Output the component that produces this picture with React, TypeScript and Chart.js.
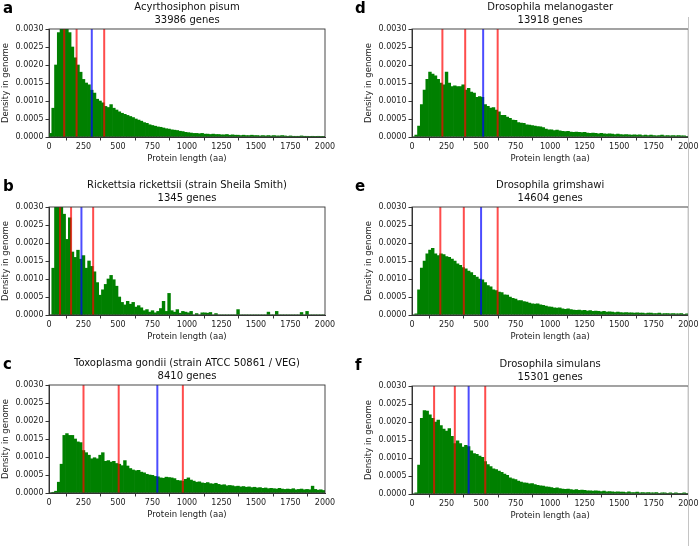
import { useEffect, useRef } from 'react';
import { Chart, registerables } from 'chart.js';

Chart.register(...registerables);

const FONT = '"DejaVu Sans", sans-serif';
Chart.defaults.font.family = FONT;

// histogram bins: 20 aa wide, 0..2000
const BIN_WIDTH = 20;
const BIN_CENTERS = Array.from({ length: 100 }, (_, i) => i * BIN_WIDTH + BIN_WIDTH / 2);

const X_MAX = 2000;
const X_STEP = 250;
const Y_MAX = 0.003;
const Y_STEP = 0.0005;

const PANEL_LETTERS = ['a', 'b', 'c', 'd', 'e', 'f'];
const SPECIES = [
  'Acyrthosiphon pisum',
  'Rickettsia rickettsii (strain Sheila Smith)',
  'Toxoplasma gondii (strain ATCC 50861 / VEG)',
  'Drosophila melanogaster',
  'Drosophila grimshawi',
  'Drosophila simulans',
];
const GENE_COUNTS = [33986, 1345, 8410, 13918, 14604, 15301];

const densityA = [
  0.0001, 0.0008, 0.002, 0.0029, 0.0034, 0.0034, 0.0032, 0.0029, 0.0025, 0.0022,
  0.002, 0.0018, 0.0016, 0.0015, 0.00145, 0.0013, 0.00122, 0.00105, 0.001, 0.00095,
  0.00085, 0.00082, 0.0009, 0.0008, 0.00075, 0.0007, 0.00066, 0.00063, 0.0006, 0.00057,
  0.00054, 0.0005, 0.00047, 0.00044, 0.0004, 0.00038, 0.00034, 0.00032, 0.0003, 0.00028,
  0.00027, 0.00025, 0.00023, 0.00022, 0.0002, 0.00019, 0.00018, 0.00016, 0.00015, 0.00013,
  0.00012, 0.00011, 0.0001, 0.0001, 0.00009, 0.0001, 0.00008, 0.00008, 0.00007, 0.00008,
  0.00007, 0.00007, 0.00006, 0.00006, 0.00007, 0.00005, 0.00006, 0.00005, 0.00005, 0.00004,
  0.00005, 0.00004, 0.00004, 0.00005, 0.00004, 0.00004, 0.00003, 0.00004, 0.00003, 0.00004,
  0.00003, 0.00004, 0.00003, 0.00003, 0.00004, 0.00003, 0.00002, 0.00003, 0.00002, 0.00002,
  0.00002, 0.00003, 0.00002, 0.00002, 0.00001, 0.00002, 0.00001, 0.00002, 0.00001, 0.00001,
];

const densityB = [
  0, 0.0013, 0.0035, 0.0038, 0.0034, 0.0028, 0.0021, 0.0027, 0.00175, 0.0016,
  0.0018, 0.00155, 0.00165, 0.0013, 0.0015, 0.00135, 0.0012, 0.0009, 0.00055, 0.0007,
  0.00085, 0.001, 0.0011, 0.00098, 0.0008, 0.0005, 0.00035, 0.00028, 0.00038, 0.0003,
  0.00035, 0.00022, 0.00026, 0.0002, 0.00012, 0.00015, 0.00008, 0.00012, 0.00006, 0.0001,
  0.00018, 0.00038, 0.0001, 0.0006, 0.00012, 0.00008, 0.00015, 0.00005, 0.0001, 0.00008,
  0.00006, 0.0001, 0, 0.00004, 0, 0.00006, 0.00006, 0.00005, 0.00007, 0,
  0.00004, 0, 0, 0, 0, 0, 0, 0, 0.00015, 0,
  0, 0, 0, 0, 0, 0, 0, 0, 0, 0.00008,
  0, 0, 0.0001, 0, 0, 0, 0, 0, 0, 0,
  0, 0.00007, 0, 0.0001, 0, 0, 0, 0, 0, 0,
];

const densityC = [
  0, 0.00002, 0.00005, 0.0003, 0.0008, 0.0016, 0.00165, 0.0016, 0.0016, 0.0015,
  0.00142, 0.0014, 0.00118, 0.00112, 0.00105, 0.00095, 0.00098, 0.00095, 0.00105, 0.00112,
  0.00088, 0.0009, 0.00086, 0.00088, 0.00082, 0.0008, 0.00076, 0.0009, 0.00075, 0.00068,
  0.00064, 0.00062, 0.00063, 0.00058, 0.00056, 0.00052, 0.0005, 0.00049, 0.00046, 0.00045,
  0.00042, 0.00041, 0.00044, 0.00043, 0.00042, 0.0004, 0.00035, 0.00034, 0.00033, 0.00038,
  0.00042, 0.00036, 0.00033, 0.0003, 0.00031, 0.00028, 0.00027, 0.00029, 0.00026, 0.00025,
  0.00027, 0.00024, 0.00022, 0.00023, 0.0002, 0.00021, 0.0002, 0.00018, 0.00019, 0.00017,
  0.00018, 0.00016, 0.00017, 0.00015, 0.00016, 0.00014, 0.00015, 0.00013, 0.00014, 0.00012,
  0.00013, 0.00012, 0.00011, 0.00013, 0.00011, 0.0001, 0.00011, 0.0001, 0.00012, 0.00009,
  0.0001, 0.00011, 0.00009, 0.0001, 0.00009, 0.00019, 0.0001, 0.00008, 0.00009, 0.00007,
];

const densityD = [
  0, 0.00005, 0.0003, 0.0009, 0.0013, 0.0016, 0.0018, 0.00175, 0.0017, 0.0016,
  0.0015, 0.00145, 0.0018, 0.0015, 0.0014, 0.00142, 0.0014, 0.0014, 0.00145, 0.0013,
  0.00135, 0.00125, 0.00122, 0.0011, 0.00112, 0.0011, 0.0009, 0.00085, 0.0008, 0.00082,
  0.00075, 0.0007, 0.0006, 0.0006, 0.00055, 0.00052, 0.00047, 0.00046, 0.0004, 0.00039,
  0.00038, 0.00034, 0.00033, 0.00032, 0.0003, 0.00029, 0.00028, 0.00026, 0.00022, 0.0002,
  0.0002, 0.00018, 0.00019, 0.00017, 0.00016, 0.00015, 0.00016, 0.00014, 0.00013, 0.00014,
  0.00013, 0.00012, 0.00013, 0.00011, 0.0001, 0.00011, 0.0001, 0.00009, 0.0001, 0.00009,
  0.00008, 0.00009, 0.00008, 0.00007, 0.00008, 0.00007, 0.00006, 0.00007, 0.00006, 0.00005,
  0.00006, 0.00005, 0.00006, 0.00004, 0.00005, 0.00004, 0.00005, 0.00004, 0.00003, 0.00004,
  0.00005, 0.00003, 0.00004, 0.00003, 0.00004, 0.00003, 0.00004, 0.00003, 0.00003, 0.00002,
];

const densityE = [
  0, 0.00003, 0.0007, 0.0013, 0.0015, 0.0017, 0.0018, 0.00185, 0.0017, 0.00165,
  0.0017, 0.00168, 0.00162, 0.0016, 0.00155, 0.0015, 0.00142, 0.00138, 0.00132, 0.00128,
  0.00122, 0.00118, 0.0011, 0.00105, 0.001, 0.00098, 0.0009, 0.00082, 0.00078, 0.0007,
  0.00068, 0.00064, 0.00062, 0.00056, 0.00055, 0.0005, 0.00046, 0.00044, 0.0004, 0.0004,
  0.00037, 0.00036, 0.00033, 0.00031, 0.0003, 0.00031, 0.00028, 0.00027, 0.00025, 0.00023,
  0.00022, 0.0002, 0.00019, 0.0002, 0.00017, 0.00016, 0.00017, 0.00015, 0.00014, 0.00013,
  0.00014, 0.00012, 0.00013, 0.00011, 0.00012, 0.0001, 0.00011, 0.0001, 0.00009, 0.0001,
  0.00008, 0.00009, 0.00008, 0.00007, 0.00008, 0.00007, 0.00006, 0.00007, 0.00006, 0.00006,
  0.00005, 0.00006, 0.00005, 0.00005, 0.00004, 0.00005, 0.00005, 0.00004, 0.00004, 0.00005,
  0.00003, 0.00004, 0.00004, 0.00003, 0.00004, 0.00003, 0.00003, 0.00004, 0.00002, 0.00003,
];

const densityF = [
  0, 0.00003, 0.0008, 0.0021, 0.00232, 0.0023, 0.0022, 0.0021, 0.002, 0.00205,
  0.0019, 0.0018, 0.00175, 0.00182, 0.0016, 0.0014, 0.00148, 0.0014, 0.0013, 0.00135,
  0.00132, 0.0012, 0.00112, 0.0011, 0.00105, 0.00102, 0.0009, 0.00082, 0.00076, 0.0007,
  0.00068, 0.00064, 0.0006, 0.00055, 0.00052, 0.00045, 0.00042, 0.0004, 0.00036, 0.00033,
  0.00031, 0.0003, 0.00028, 0.00029, 0.00026, 0.00024, 0.00023, 0.00022, 0.0002, 0.00019,
  0.00018, 0.00016, 0.00017, 0.00015, 0.00014, 0.00013, 0.00014, 0.00012, 0.00011, 0.00012,
  0.0001, 0.00011, 0.0001, 0.00009, 0.00009, 0.00008, 0.00009, 0.00008, 0.00007, 0.00008,
  0.00006, 0.00007, 0.00006, 0.00005, 0.00006, 0.00005, 0.00005, 0.00004, 0.00006, 0.00004,
  0.00004, 0.00005, 0.00003, 0.00004, 0.00003, 0.00004, 0.00003, 0.00003, 0.00004, 0.00002,
  0.00003, 0.00003, 0.00002, 0.00003, 0.00002, 0.00003, 0.00002, 0.00002, 0.00003, 0.00002,
];

// marker lines (aa): red = quartile-type markers, blue = mean
const redLinesA = [110, 200, 400];
const blueLinesA = [310];
const redLinesB = [80, 160, 320];
const blueLinesB = [235];
const redLinesC = [250, 505, 970];
const blueLinesC = [785];
const redLinesD = [220, 385, 620];
const blueLinesD = [515];
const redLinesE = [205, 375, 620];
const blueLinesE = [500];
const redLinesF = [160, 310, 530];
const blueLinesF = [410];

type PanelProps = {
  letter: string;
  species: string;
  genes: number;
  density: number[];
  red: number[];
  blue: number[];
  left: number;
  top: number;
  width: number;
  padRight: number;
};

function HistPanel({ letter, species, genes, density, red, blue, left, top, width, padRight }: PanelProps) {
  const canvasRef = useRef<HTMLCanvasElement>(null);
  const chartRef = useRef<Chart | null>(null);

  useEffect(() => {
    if (!canvasRef.current) return;
    if (chartRef.current) chartRef.current.destroy();

    const markers = {
      id: 'markers',
      afterDatasetsDraw(chart: any) {
        const { ctx, chartArea, scales } = chart;
        ctx.save();
        ctx.lineWidth = 2;
        const draw = (vals: number[], color: string) => {
          vals.forEach((v) => {
            const x = scales.x.getPixelForValue(v);
            ctx.strokeStyle = color;
            ctx.beginPath();
            ctx.moveTo(x, chartArea.top);
            ctx.lineTo(x, chartArea.bottom);
            ctx.stroke();
          });
        };
        draw(red, 'rgba(255, 0, 0, 0.7)');
        draw(blue, 'rgba(0, 0, 255, 0.7)');
        // axes frame
        ctx.strokeStyle = '#333';
        ctx.lineWidth = 0.9;
        ctx.strokeRect(chartArea.left, chartArea.top, chartArea.right - chartArea.left, chartArea.bottom - chartArea.top);
        ctx.restore();
      },
    };

    chartRef.current = new Chart(canvasRef.current, {
      type: 'bar',
      data: {
        datasets: [
          {
            data: density.map((d, i) => ({ x: BIN_CENTERS[i], y: d })),
            backgroundColor: '#008000',
            borderWidth: 0,
            barPercentage: 1,
            categoryPercentage: 1,
          },
        ],
      },
      options: {
        animation: false,
        responsive: true,
        maintainAspectRatio: false,
        layout: { padding: { left: 0, right: padRight, top: 0, bottom: 0 } },
        plugins: {
          legend: { display: false },
          tooltip: { enabled: false },
          title: {
            display: true,
            text: [species, `${genes} genes`],
            fullSize: false,
            color: '#111',
            font: { family: FONT, size: 10, weight: 'normal', lineHeight: 1.3 },
            padding: { top: 1, bottom: 2 },
          },
        },
        scales: {
          x: {
            type: 'linear',
            min: 0,
            max: X_MAX,
            offset: false,
            grid: { display: true, drawOnChartArea: false, tickLength: 3.5, tickColor: '#333' },
            border: { display: true, color: '#333' },
            ticks: {
              stepSize: X_STEP,
              autoSkip: false,
              maxRotation: 0,
              padding: 1.5,
              color: '#222',
              font: { size: 8 },
              callback: (v: any) => String(v),
            },
            title: {
              display: true,
              text: 'Protein length (aa)',
              color: '#222',
              font: { size: 8.5 },
              padding: { top: 0, bottom: 8 },
            },
            afterFit: (s: any) => {
              s.height = 35;
            },
          },
          y: {
            min: 0,
            max: Y_MAX,
            grid: { display: true, drawOnChartArea: false, tickLength: 3.5, tickColor: '#333' },
            border: { display: true, color: '#333' },
            ticks: {
              stepSize: Y_STEP,
              padding: 2,
              color: '#222',
              font: { size: 8 },
              callback: (v: any) => Number(v).toFixed(4),
            },
            title: {
              display: true,
              text: 'Density in genome',
              color: '#222',
              font: { size: 8.5 },
              padding: { top: 1, bottom: 0 },
            },
            afterFit: (s: any) => {
              s.width = 49;
            },
          },
        },
      } as any,
      plugins: [markers],
    });

    return () => {
      if (chartRef.current) {
        chartRef.current.destroy();
        chartRef.current = null;
      }
    };
  }, []);

  return (
    <>
      <div style={{ position: 'absolute', left, top, width, height: 172 }}>
        <canvas ref={canvasRef}></canvas>
      </div>
      <span
        style={{
          position: 'absolute',
          left: left < 100 ? 3 : 355,
          top: top + 1,
          fontFamily: FONT,
          fontWeight: 'bold',
          fontSize: 15,
          lineHeight: '14px',
          color: '#000',
        }}
      >
        {letter}
      </span>
    </>
  );
}

export default function App() {
  const panels = [
    { density: densityA, red: redLinesA, blue: blueLinesA, left: 0, top: 0 },
    { density: densityB, red: redLinesB, blue: blueLinesB, left: 0, top: 178 },
    { density: densityC, red: redLinesC, blue: blueLinesC, left: 0, top: 356 },
    { density: densityD, red: redLinesD, blue: blueLinesD, left: 363, top: 0 },
    { density: densityE, red: redLinesE, blue: blueLinesE, left: 363, top: 178 },
    { density: densityF, red: redLinesF, blue: blueLinesF, left: 363, top: 357 },
  ];
  return (
    <div style={{ position: 'absolute', left: 0, top: 0, width: 700, height: 546, background: '#fff', overflow: 'hidden' }}>
      {panels.map((p, i) => (
        <HistPanel
          key={i}
          letter={PANEL_LETTERS[i]}
          species={SPECIES[i]}
          genes={GENE_COUNTS[i]}
          density={p.density}
          red={p.red}
          blue={p.blue}
          left={p.left}
          top={p.top}
          width={p.left === 0 ? 345 : 337}
          padRight={p.left === 0 ? 20 : 11}
        />
      ))}
      <div style={{ position: 'absolute', left: 688, top: 17, width: 1, height: 529, background: '#c4c4c4' }}></div>
    </div>
  );
}
